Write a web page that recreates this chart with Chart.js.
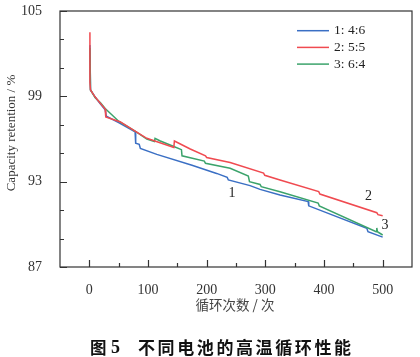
<!DOCTYPE html>
<html><head><meta charset="utf-8">
<script src="https://cdn.jsdelivr.net/npm/chart.js@4"></script>
<style>html,body{margin:0;padding:0;background:#fff}canvas{display:block}</style>
</head><body>
<canvas id="c" width="420" height="357"></canvas>
<script>
// ---- data ----
const seriesNames = ['1: 4:6', '2: 5:5', '3: 6:4'];
const blueCycles = [1, 2, 10, 19, 27, 29, 50, 78, 79, 85, 87, 115, 175, 217, 235, 237, 274, 291, 325, 373, 374, 473, 475, 500];
const blueValues = [102.6, 99.45, 98.95, 98.45, 98.05, 97.6, 97.15, 96.5, 95.7, 95.62, 95.34, 94.92, 94.15, 93.58, 93.3, 93.12, 92.72, 92.46, 92.06, 91.6, 91.3, 89.72, 89.48, 89.1];
const redCycles = [1, 1, 2, 10, 19, 27, 28, 53, 78, 98, 144, 145, 172, 198, 200, 240, 297, 299, 325, 391, 393, 490, 492, 500];
const redValues = [103.5, 100.0, 99.45, 98.95, 98.5, 98.1, 97.55, 97.2, 96.55, 96.05, 95.4, 95.86, 95.3, 94.82, 94.7, 94.35, 93.6, 93.45, 93.12, 92.3, 92.13, 90.82, 90.68, 90.6];
const greenCycles = [1, 2, 10, 19, 27, 50, 78, 98, 111, 112, 120, 144, 157, 158, 196, 198, 240, 271, 273, 291, 293, 325, 390, 392, 489, 490, 491, 500];
const greenValues = [102.4, 99.45, 98.9, 98.55, 98.15, 97.25, 96.55, 96.0, 95.82, 96.05, 95.88, 95.47, 95.25, 94.82, 94.45, 94.29, 93.94, 93.4, 93.0, 92.8, 92.65, 92.29, 91.5, 91.3, 89.48, 89.75, 89.48, 89.25];
const xTickLabels = [0, 100, 200, 300, 400, 500];
const yTickLabels = [87, 93, 99, 105];
const curveLabels = [
  {text: '1', x: 243, y: 92.2},
  {text: '2', x: 476, y: 91.94},
  {text: '3', x: 504, y: 89.95}
];
const colors = ['#3a6fc4', '#f04a50', '#3ba36b'];

function pts(xs, ys){ return xs.map((x,i)=>({x:x, y:ys[i]})); }

const serif = '"Liberation Serif", "Times New Roman", serif';
const cjk = '"Noto Sans CJK SC", sans-serif';

const deco = {
  id: 'deco',
  afterDraw(chart){
    const ctx = chart.ctx, a = chart.chartArea;
    const xs = chart.scales.x, ys = chart.scales.y;
    ctx.save();
    // frame
    ctx.strokeStyle = '#333'; ctx.lineWidth = 1.2;
    ctx.strokeRect(a.left, a.top, a.right - a.left, a.bottom - a.top);
    // inward ticks
    ctx.beginPath();
    for (let v = 0; v <= 500; v += 50) {
      const px = Math.round(xs.getPixelForValue(v)) + 0.5;
      const len = (v % 100 === 0) ? 7 : 4;
      ctx.moveTo(px, a.bottom); ctx.lineTo(px, a.bottom - len);
    }
    for (let v = 87; v <= 105; v += 2) {
      const py = Math.round(ys.getPixelForValue(v)) + 0.5;
      const len = ((v - 87) % 6 === 0) ? 7 : 4;
      ctx.moveTo(a.left, py); ctx.lineTo(a.left + len, py);
    }
    ctx.stroke();
    // curve labels
    ctx.fillStyle = '#222'; ctx.font = '14px ' + serif;
    ctx.textAlign = 'center'; ctx.textBaseline = 'middle';
    curveLabels.forEach(l => ctx.fillText(l.text, xs.getPixelForValue(l.x), ys.getPixelForValue(l.y)));
    // legend
    ctx.font = '13.5px ' + serif; ctx.textAlign = 'left';
    seriesNames.forEach((n, i) => {
      const y = 30.7 + i * 16.7;
      ctx.strokeStyle = colors[i]; ctx.lineWidth = 1.5;
      ctx.beginPath(); ctx.moveTo(297, y); ctx.lineTo(329, y); ctx.stroke();
      ctx.fillStyle = '#222'; ctx.fillText(n, 334, y);
    });
    // y title
    ctx.save();
    ctx.translate(12, 133); ctx.rotate(-Math.PI / 2);
    ctx.font = '13px ' + serif; ctx.textAlign = 'center'; ctx.fillStyle = '#333';
    ctx.fillText('Capacity retention / %', 0, 0);
    ctx.restore();
    // x title
    ctx.font = '13.5px ' + cjk; ctx.fillStyle = '#444'; ctx.textAlign = 'center';
    ctx.fillText('循环次数 / 次', 235, 305);
    // caption
    ctx.fillStyle = '#111'; ctx.textAlign = 'left';
    ctx.font = 'bold 16.5px ' + cjk;
    ctx.fillText('图', 90, 348);
    ctx.font = 'bold 18px ' + serif;
    ctx.fillText('5', 111, 348);
    ctx.font = 'bold 17px ' + cjk;
    ctx.letterSpacing = '2.6px';
    ctx.fillText('不同电池的高温循环性能', 138, 348);
    ctx.restore();
  }
};

new Chart(document.getElementById('c'), {
  type: 'line',
  data: {
    datasets: [
      {label: seriesNames[0], data: pts(blueCycles, blueValues), borderColor: colors[0], order: 2},
      {label: seriesNames[1], data: pts(redCycles, redValues), borderColor: colors[1], order: 0},
      {label: seriesNames[2], data: pts(greenCycles, greenValues), borderColor: colors[2], order: 1}
    ].map(d => Object.assign(d, {borderWidth: 1.5, pointRadius: 0, tension: 0, fill: false}))
  },
  options: {
    responsive: false, animation: false,
    layout: {padding: {left: 0, top: 11, right: 8, bottom: 0}},
    plugins: {legend: {display: false}, tooltip: {enabled: false}},
    scales: {
      x: {
        type: 'linear', min: -50, max: 550,
        afterBuildTicks: s => { s.ticks = xTickLabels.map(v => ({value: v})); },
        afterFit: s => { s.height = 90; s.paddingLeft = 0; s.paddingRight = 0; },
        grid: {display: false}, border: {display: false},
        ticks: {font: {family: serif, size: 14}, color: '#333', padding: 7, maxRotation: 0}
      },
      y: {
        type: 'linear', min: 87, max: 105,
        afterBuildTicks: s => { s.ticks = yTickLabels.map(v => ({value: v})); },
        afterFit: s => { s.width = 60; s.paddingTop = 0; s.paddingBottom = 0; },
        grid: {display: false}, border: {display: false},
        ticks: {font: {family: serif, size: 14}, color: '#333', padding: 10}
      }
    }
  },
  plugins: [deco]
});
</script>
</body></html>
